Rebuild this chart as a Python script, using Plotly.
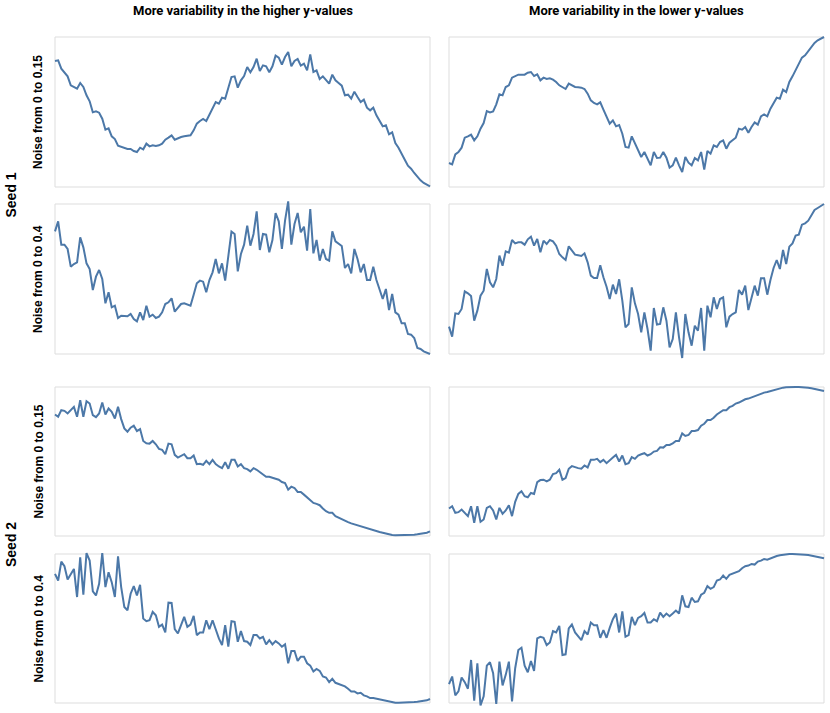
import plotly.graph_objects as go

W, H = 830, 713

# ---- data (panel bottom = 0, panel top = 450) ----
seed1_higher_015 = [378, 380, 355, 345, 332, 305, 300, 295, 312, 300,
                    275, 257, 224, 227, 223, 205, 172, 176, 152, 144,
                    124, 120, 117, 114, 114, 108, 105, 118, 113, 130,
                    122, 125, 123, 125, 130, 142, 148, 155, 142, 147,
                    150, 152, 153, 155, 170, 190, 198, 204, 198, 218,
                    234, 255, 250, 268, 265, 295, 330, 332, 298, 320,
                    333, 360, 344, 360, 385, 348, 365, 362, 344, 362,
                    394, 388, 367, 390, 405, 362, 378, 384, 364, 370,
                    350, 398, 345, 350, 324, 332, 320, 310, 337, 320,
                    312, 304, 275, 277, 265, 286, 270, 255, 262, 238,
                    230, 238, 215, 198, 182, 185, 158, 164, 132, 118,
                    98, 82, 64, 55, 42, 30, 20, 12, 7, 2]

seed1_lower_015 = [72, 68, 98, 105, 118, 148, 152, 157, 140, 152,
                   175, 192, 228, 224, 227, 248, 278, 275, 300, 305,
                   328, 332, 337, 337, 337, 343, 345, 333, 338, 320,
                   328, 324, 326, 322, 315, 305, 300, 294, 310, 304,
                   300, 299, 298, 294, 280, 260, 252, 248, 254, 232,
                   212, 190, 200, 182, 186, 160, 120, 118, 152, 130,
                   112, 90, 105, 85, 65, 105, 87, 88, 105, 88,
                   58, 65, 88, 65, 45, 90, 73, 65, 87, 80,
                   105, 52, 108, 100, 125, 120, 135, 140, 115, 133,
                   140, 148, 175, 172, 180, 163, 180, 194, 187, 212,
                   218, 212, 235, 252, 268, 265, 292, 285, 315, 332,
                   352, 368, 388, 395, 408, 422, 432, 440, 445, 450]

seed1_higher_04 = [368, 398, 328, 328, 315, 262, 270, 275, 350, 320,
                   272, 255, 192, 232, 252, 225, 152, 185, 140, 145,
                   108, 115, 114, 113, 120, 105, 98, 125, 102, 145,
                   112, 118, 108, 112, 125, 150, 155, 167, 127, 140,
                   150, 152, 148, 145, 178, 212, 220, 217, 185, 222,
                   245, 285, 242, 272, 220, 290, 367, 360, 248, 300,
                   328, 385, 325, 360, 428, 312, 360, 358, 305, 342,
                   423, 398, 315, 400, 458, 328, 390, 423, 365, 382,
                   310, 435, 302, 342, 280, 315, 285, 280, 368, 338,
                   332, 324, 258, 270, 242, 315, 285, 245, 270, 222,
                   222, 262, 222, 190, 165, 195, 132, 180, 125, 118,
                   92, 92, 60, 58, 48, 18, 15, 8, 4, 0]

seed1_lower_04 = [82, 52, 122, 120, 135, 188, 182, 174, 100, 130,
                  175, 190, 255, 215, 200, 225, 295, 265, 308, 304,
                  342, 332, 335, 335, 328, 344, 352, 325, 345, 305,
                  340, 330, 342, 338, 325, 300, 290, 282, 323, 310,
                  298, 296, 294, 302, 275, 235, 228, 228, 266, 230,
                  202, 165, 208, 180, 224, 160, 80, 90, 200, 152,
                  120, 65, 125, 75, 10, 138, 88, 90, 140, 100,
                  20, 45, 125, 50, -12, 120, 65, 25, 85, 70,
                  138, 10, 145, 110, 170, 135, 165, 170, 80, 112,
                  120, 125, 192, 178, 205, 132, 170, 205, 175, 227,
                  227, 178, 222, 258, 282, 255, 312, 270, 322, 332,
                  355, 358, 388, 392, 400, 415, 432, 438, 445, 450]

seed2_higher_015 = [367, 360, 380, 378, 370, 380, 390, 360, 410, 360,
                    407, 400, 365, 359, 370, 403, 367, 385, 375, 355,
                    390, 353, 325, 315, 327, 333, 317, 323, 287, 280,
                    279, 287, 277, 263, 260, 247, 279, 277, 245, 237,
                    243, 247, 235, 235, 243, 217, 218, 215, 227, 217,
                    230, 217, 210, 205, 223, 203, 230, 230, 210, 217,
                    205, 202, 195, 205, 200, 193, 187, 179, 179, 175,
                    173, 170, 163, 160, 140, 149, 145, 133, 133, 125,
                    117, 109, 100, 97, 93, 83, 75, 70, 70, 60,
                    55, 51, 45, 42, 38, 35, 32, 30, 26, 23,
                    19, 16, 15, 12, 10, 7, 4, 3, 2, 2,
                    2, 2, 2, 3, 4, 5, 6, 8, 10, 14]

seed2_lower_015 = [83, 90, 70, 72, 80, 70, 60, 90, 40, 90,
                   43, 50, 85, 90, 77, 50, 85, 67, 77, 93,
                   60, 103, 127, 135, 120, 117, 130, 127, 163, 169,
                   170, 165, 170, 187, 190, 200, 170, 175, 203, 211,
                   207, 205, 203, 213, 207, 230, 230, 233, 223, 230,
                   220, 230, 237, 245, 225, 243, 217, 220, 238, 233,
                   243, 247, 250, 243, 247, 255, 257, 268, 267, 275,
                   275, 280, 287, 287, 310, 302, 305, 317, 317, 320,
                   333, 339, 350, 350, 357, 367, 373, 380, 380, 389,
                   393, 400, 403, 409, 413, 415, 419, 423, 427, 431,
                   433, 435, 438, 441, 444, 446, 448, 449, 450, 450,
                   450, 450, 450, 449, 448, 446, 444, 442, 440, 438]

seed2_higher_04 = [390, 370, 427, 413, 373, 387, 405, 320, 440, 327,
                   453, 430, 337, 325, 360, 453, 350, 395, 365, 320,
                   443, 350, 290, 280, 330, 353, 325, 357, 255, 247,
                   250, 275, 265, 230, 237, 213, 303, 302, 223, 210,
                   235, 260, 230, 237, 263, 205, 213, 213, 250, 223,
                   250, 220, 195, 175, 235, 170, 247, 245, 185, 217,
                   187, 185, 175, 205, 205, 195, 200, 177, 190, 177,
                   187, 180, 170, 177, 120, 157, 157, 127, 140, 140,
                   120, 113, 95, 103, 97, 80, 77, 63, 73, 61,
                   57, 55, 50, 43, 35, 35, 29, 31, 23, 20,
                   15, 15, 13, 11, 7, 5, 3, 2, 1, 1,
                   1, 1, 1, 2, 3, 4, 5, 7, 8, 12]

seed2_lower_04 = [57, 80, 23, 35, 77, 63, 43, 130, 7, 120,
                  -7, 20, 113, 123, 90, -3, 125, 53, 85, 125,
                  5, 105, 160, 167, 113, 93, 127, 97, 195, 200,
                  197, 175, 183, 217, 213, 233, 145, 147, 225, 237,
                  213, 203, 190, 217, 207, 243, 235, 235, 197, 220,
                  197, 227, 253, 270, 213, 277, 200, 205, 260, 235,
                  257, 262, 272, 243, 243, 253, 247, 273, 260, 270,
                  262, 270, 279, 270, 325, 292, 290, 318, 305, 307,
                  327, 333, 353, 345, 350, 370, 373, 385, 375, 387,
                  390, 393, 398, 407, 413, 415, 420, 418, 427, 430,
                  435, 433, 437, 440, 444, 446, 448, 449, 450, 450,
                  450, 450, 449, 448, 447, 445, 444, 442, 440, 437]

col_titles = ["More variability in the higher y-values", "More variability in the lower y-values"]
row_labels = ["Noise from 0 to 0.15", "Noise from 0 to 0.4", "Noise from 0 to 0.15", "Noise from 0 to 0.4"]
seed_labels = ["Seed 1", "Seed 2"]
Y_TOP = 450

grid = [[seed1_higher_015, seed1_lower_015],
        [seed1_higher_04, seed1_lower_04],
        [seed2_higher_015, seed2_lower_015],
        [seed2_higher_04, seed2_lower_04]]

# ---- layout geometry (pixels) ----
cols_px = [(55, 430), (449, 824)]
rows_px = [(37, 187), (204, 354), (387, 536), (554, 703)]
PADY = 6
PADX = 3
LINE = "#4c78a8"
BORDER = "#dddddd"
FONT = "Liberation Sans, Arial, sans-serif"
TITLE_FONT = "Roboto, Liberation Sans, sans-serif"

fig = go.Figure()
layout = {}
shapes = []
k = 0
for r, (top, bot) in enumerate(rows_px):
    for c, (left, right) in enumerate(cols_px):
        k += 1
        ys = grid[r][c]
        n = len(ys)
        xs = list(range(n))
        xname = "x" if k == 1 else f"x{k}"
        yname = "y" if k == 1 else f"y{k}"
        fig.add_trace(go.Scatter(x=xs, y=ys, mode="lines",
                                 line=dict(color=LINE, width=2),
                                 xaxis=xname, yaxis=yname,
                                 hoverinfo="skip", showlegend=False))
        ux = (n - 1) / (right - left)
        uy = Y_TOP / (bot - top)
        xkey = "xaxis" if k == 1 else f"xaxis{k}"
        ykey = "yaxis" if k == 1 else f"yaxis{k}"
        layout[xkey] = dict(domain=[(left - PADX) / W, (right + PADX) / W],
                            range=[-PADX * ux, (n - 1) + PADX * ux],
                            visible=False, anchor=yname, fixedrange=True)
        layout[ykey] = dict(domain=[1 - (bot + PADY) / H, 1 - (top - PADY) / H],
                            range=[-PADY * uy, Y_TOP + PADY * uy],
                            visible=False, anchor=xname, fixedrange=True)
        shapes.append(dict(type="rect", xref="paper", yref="paper",
                           x0=left / W, x1=right / W,
                           y0=1 - bot / H, y1=1 - top / H,
                           line=dict(color=BORDER, width=1),
                           fillcolor="rgba(0,0,0,0)", layer="below"))

annotations = []
for c, (left, right) in enumerate(cols_px):
    annotations.append(dict(text=f"<b>{col_titles[c]}</b>", xref="paper", yref="paper",
                            x=(left + right) / 2 / W, y=1 - 11 / H,
                            xanchor="center", yanchor="middle", showarrow=False,
                            font=dict(family=TITLE_FONT, size=13, color="#000")))
for r, (top, bot) in enumerate(rows_px):
    annotations.append(dict(text=f"<b>{row_labels[r]}</b>", xref="paper", yref="paper",
                            x=38 / W, y=1 - (top + bot) / 2 / H,
                            xanchor="center", yanchor="middle", showarrow=False, textangle=-90,
                            font=dict(family=FONT, size=12, color="#000")))
for s in range(2):
    top = rows_px[2 * s][0]
    bot = rows_px[2 * s + 1][1]
    annotations.append(dict(text=f"<b>{seed_labels[s]}</b>", xref="paper", yref="paper",
                            x=11 / W, y=1 - (top + bot) / 2 / H,
                            xanchor="center", yanchor="middle", showarrow=False, textangle=-90,
                            font=dict(family=FONT, size=14, color="#000")))

fig.update_layout(width=W, height=H, margin=dict(l=0, r=0, t=0, b=0),
                  paper_bgcolor="white", plot_bgcolor="rgba(0,0,0,0)",
                  shapes=shapes, annotations=annotations, **layout)

fig.write_html("out.html", config={"displayModeBar": False, "staticPlot": True},
               post_script="document.body.style.margin='0px';document.body.style.padding='0px';")
